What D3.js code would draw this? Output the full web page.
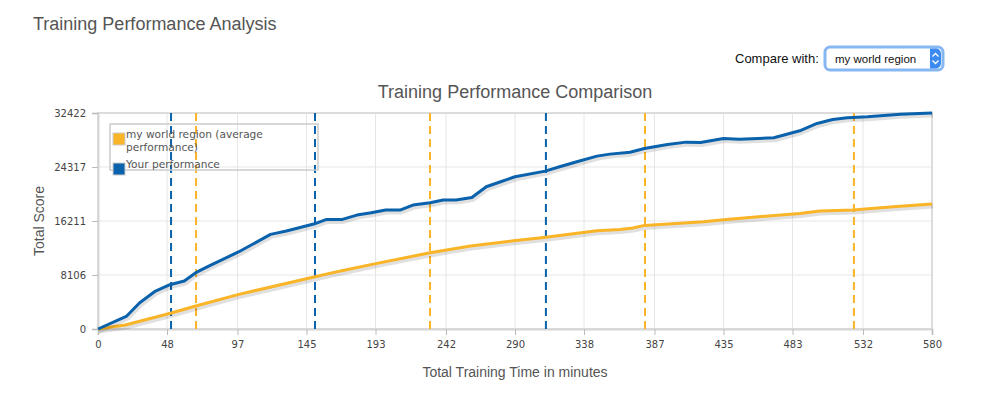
<!DOCTYPE html>
<html>
<head>
<meta charset="utf-8">
<script src="https://d3js.org/d3.v7.min.js"></script>
<style>
  body { margin: 0; background: #fff; }
  svg { display: block; }
</style>
</head>
<body>
<svg width="986" height="397"></svg>
<script>
// minutes vs total score
var yourMinutes = [0, 20, 29, 40, 50, 60, 68, 77, 98, 120, 131, 150, 159, 170, 180, 190, 200, 210, 219, 231, 240, 249, 260, 270, 280, 290, 311, 321, 333, 347, 356, 370, 380, 396, 409, 419, 435, 446, 470, 488, 500, 511, 521, 535, 558, 580];
var yourScore = [0, 1950, 3950, 5700, 6650, 7200, 8450, 9450, 11600, 14200, 14700, 15750, 16450, 16450, 17100, 17450, 17850, 17850, 18600, 18950, 19350, 19350, 19750, 21350, 22100, 22850, 23700, 24350, 25100, 25950, 26250, 26530, 27100, 27700, 28050, 28000, 28600, 28500, 28700, 29750, 30850, 31450, 31700, 31850, 32250, 32422];

var regionMinutes = [0, 19, 51, 68, 98, 151, 161, 172, 194, 231, 259, 289, 310, 347, 363, 372, 380, 421, 437, 488, 502, 525, 553, 580];
var regionScore = [0, 600, 2400, 3450, 5200, 7850, 8350, 8850, 9850, 11450, 12450, 13250, 13750, 14750, 14950, 15150, 15550, 16100, 16450, 17350, 17700, 17850, 18350, 18750];

var yourMarkers = [50.8, 150.9, 311.5];
var regionMarkers = [68.2, 230.9, 380.4, 525.7];

var xTicks = [0, 48, 97, 145, 193, 242, 290, 338, 387, 435, 483, 532, 580];
var yTicks = [0, 8106, 16211, 24317, 32422];

var legendItems = [
	{ lines: ["my world region (average", "performance)"], color: "#f9b427" },
	{ lines: ["Your performance"], color: "#0a62ad" }
];

var blue = "#0a62ad";
var orange = "#f9b427";

var svg = d3.select("svg");

var plotL = 98, plotR = 932, plotT = 113, plotB = 329;

var x = d3.scaleLinear().domain([0, 580]).range([plotL, plotR]);
var y = d3.scaleLinear().domain([0, 32422]).range([plotB, plotT]);

// page header
svg.append("text")
	.attr("x", 33).attr("y", 30)
	.attr("font-family", "Liberation Sans, Arial, sans-serif")
	.attr("font-size", 18)
	.attr("fill", "#555")
	.text("Training Performance Analysis");

svg.append("text")
	.attr("x", 735).attr("y", 63)
	.attr("font-family", "Liberation Sans, Arial, sans-serif")
	.attr("font-size", 13)
	.attr("fill", "#111")
	.text("Compare with:");

// fake select box
var sel = svg.append("g").attr("transform", "translate(825,47)");
sel.append("rect")
	.attr("x", 0).attr("y", 0).attr("width", 118).attr("height", 23)
	.attr("rx", 5)
	.attr("fill", "#fff")
	.attr("stroke", "#86b7f2")
	.attr("stroke-width", 3);
sel.append("path")
	.attr("d", "M105,1.5 h6 a5,5 0 0 1 5,5 v10 a5,5 0 0 1 -5,5 h-6 z")
	.attr("fill", "#3c8af0");
sel.append("path")
	.attr("d", "M107.5,9.5 l3,-3 l3,3 M107.5,13.5 l3,3 l3,-3")
	.attr("fill", "none")
	.attr("stroke", "#fff")
	.attr("stroke-width", 1.3);
sel.append("text")
	.attr("x", 10).attr("y", 16)
	.attr("font-family", "Liberation Sans, Arial, sans-serif")
	.attr("font-size", 11.5)
	.attr("fill", "#111")
	.text("my world region");

// chart title
svg.append("text")
	.attr("x", (plotL + plotR) / 2).attr("y", 98)
	.attr("text-anchor", "middle")
	.attr("font-family", "Liberation Sans, Arial, sans-serif")
	.attr("font-size", 18)
	.attr("fill", "#555")
	.text("Training Performance Comparison");

// grid
var grid = svg.append("g");
grid.selectAll(".gx")
	.data(xTicks)
	.enter()
	.append("line")
	.attr("x1", (d) => x(d)).attr("x2", (d) => x(d))
	.attr("y1", plotT).attr("y2", plotB)
	.attr("stroke", "#e6e6e6");
grid.selectAll(".gy")
	.data(yTicks)
	.enter()
	.append("line")
	.attr("x1", plotL).attr("x2", plotR)
	.attr("y1", (d) => y(d)).attr("y2", (d) => y(d))
	.attr("stroke", "#e6e6e6");

svg.append("rect")
	.attr("x", plotL).attr("y", plotT)
	.attr("width", plotR - plotL).attr("height", plotB - plotT)
	.attr("fill", "none")
	.attr("stroke", "#dcdcdc")
	.attr("stroke-width", 2);

// axes
var xAxis = svg.append("g")
	.attr("transform", "translate(0," + plotB + ")")
	.call(d3.axisBottom(x).tickValues(xTicks).tickFormat(d3.format("d")).tickSize(6).tickPadding(6));
var yAxis = svg.append("g")
	.attr("transform", "translate(" + plotL + ",0)")
	.call(d3.axisLeft(y).tickValues(yTicks).tickFormat(d3.format("d")).tickSize(6).tickPadding(6));

[xAxis, yAxis].forEach(function (a) {
	a.select(".domain").attr("stroke", "#d6d6d6").attr("stroke-width", 2);
	a.selectAll(".tick line").attr("stroke", "#bbb");
	a.selectAll(".tick text")
		.attr("font-family", "DejaVu Sans, Verdana, sans-serif")
		.attr("font-size", 10)
		.attr("fill", "#444");
});

// axis titles
svg.append("text")
	.attr("transform", "translate(44," + (plotT + plotB) / 2 + ") rotate(-90)")
	.attr("text-anchor", "middle")
	.attr("font-family", "Liberation Sans, Arial, sans-serif")
	.attr("font-size", 14)
	.attr("fill", "#555")
	.text("Total Score");

svg.append("text")
	.attr("x", (plotL + plotR) / 2).attr("y", 377)
	.attr("text-anchor", "middle")
	.attr("font-family", "Liberation Sans, Arial, sans-serif")
	.attr("font-size", 14)
	.attr("fill", "#555")
	.text("Total Training Time in minutes");

// dashed markers
function markers(data, color) {
	svg.append("g")
		.selectAll("line")
		.data(data)
		.enter()
		.append("line")
		.attr("x1", (d) => x(d)).attr("x2", (d) => x(d))
		.attr("y1", plotT).attr("y2", plotB)
		.attr("stroke", color)
		.attr("stroke-width", 2)
		.attr("stroke-dasharray", "8,5");
}
markers(yourMarkers, blue);
markers(regionMarkers, orange);

// series lines with a soft shadow
var line = d3.line()
	.x((d) => x(d[0]))
	.y((d) => y(d[1]));

function series(mins, vals, color) {
	var pts = mins.map((m, i) => [m, vals[i]]);
	svg.append("path")
		.datum(pts)
		.attr("d", line)
		.attr("transform", "translate(1,2)")
		.attr("fill", "none")
		.attr("stroke", "#000")
		.attr("stroke-opacity", 0.12)
		.attr("stroke-width", 5)
		.attr("stroke-linejoin", "round");
	svg.append("path")
		.datum(pts)
		.attr("d", line)
		.attr("fill", "none")
		.attr("stroke", color)
		.attr("stroke-width", 3)
		.attr("stroke-linejoin", "round");
}
series(regionMinutes, regionScore, orange);
series(yourMinutes, yourScore, blue);

// legend
var lg = svg.append("g").attr("transform", "translate(110,124)");
lg.append("rect")
	.attr("width", 208).attr("height", 46)
	.attr("fill", "none")
	.attr("stroke", "#ccc")
	.attr("stroke-width", 1.5);

var rowY = 4;
legendItems.forEach(function (item) {
	lg.append("rect")
		.attr("x", 3).attr("y", rowY + 5)
		.attr("width", 12).attr("height", 12)
		.attr("fill", item.color)
		.attr("stroke", "#ccc");
	var t = lg.append("text")
		.attr("font-family", "DejaVu Sans, Verdana, sans-serif")
		.attr("font-size", 10.6)
		.attr("fill", "#555");
	item.lines.forEach(function (l, i) {
		t.append("tspan")
			.attr("x", 16)
			.attr("y", rowY + 10 + i * 13)
			.text(l);
	});
	rowY += item.lines.length * 13 + 4;
});
</script>
</body>
</html>
